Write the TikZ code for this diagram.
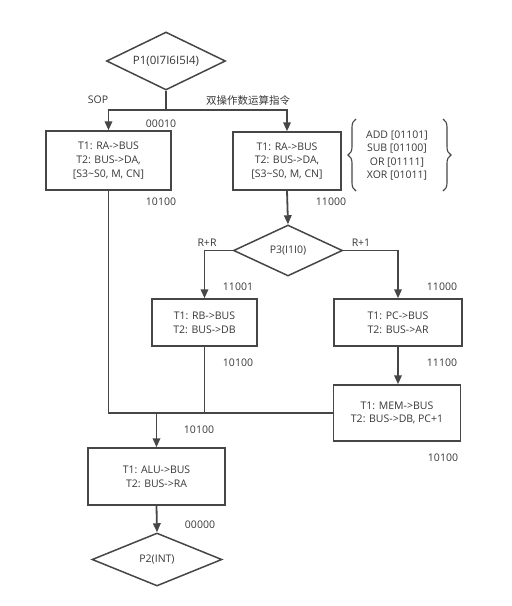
\documentclass[tikz,border=0pt]{standalone}
\usepackage{fontspec}
\setmainfont{Open Sans}
\newfontfamily\cjk{Noto Sans CJK SC}
\usetikzlibrary{shapes.geometric, arrows.meta, decorations.pathreplacing}
\definecolor{linegray}{RGB}{70,70,70}
\definecolor{textgray}{RGB}{55,55,55}

\begin{document}
\begin{tikzpicture}[x=1pt, y=-1pt, font=\fontsize{10.5}{13.6}\selectfont, text=textgray]
        \tikzset{state/.style={draw=linegray, line width=1.5pt, align=center, inner sep=0pt}}
        \tikzset{test/.style={diamond, draw=linegray, line width=1.5pt, inner sep=0pt, shape aspect=2.05}}
        \tikzset{flow/.style={draw=linegray, line width=1.8pt}}
        \tikzset{arr/.style={flow, -{Triangle[length=9pt, width=7.5pt]}}}
        \tikzset{brace/.style={draw=linegray, line width=1.1pt, decorate, decoration={brace, amplitude=8pt}}}

        \useasboundingbox (0,0) rectangle (512,606);

        % tests
        \node[test, minimum width=119pt, minimum height=58pt, font=\fontsize{11.5}{14}\selectfont] (p1) at (166,61) {P1(0I7I6I5I4)};
        \node[test, minimum width=109pt, minimum height=51pt] (p3) at (288,250.5) {P3(I1I0)};
        \node[test, minimum width=130pt, minimum height=53pt] (p2) at (157,559.5) {P2(INT)};

        % micro operations
        \node[state, minimum width=125pt, minimum height=59pt] (sop) at (108.5,160.5) {T1: RA->BUS\\T2: BUS->DA,\\{[}S3\textasciitilde S0, M, CN]};
        \node[state, minimum width=108pt, minimum height=58pt] (dop) at (287,161) {T1: RA->BUS\\T2: BUS->DA,\\{[}S3\textasciitilde S0, M, CN]};
        \node[state, minimum width=105pt, minimum height=47pt] (rr) at (204.5,322.5) {T1: RB->BUS\\T2: BUS->DB};
        \node[state, minimum width=128pt, minimum height=47pt] (ri) at (398,322.5) {T1: PC->BUS\\T2: BUS->AR};
        \node[state, minimum width=127pt, minimum height=56pt] (mem) at (397,413) {T1: MEM->BUS\\T2: BUS->DB, PC+1};
        \node[state, minimum width=137pt, minimum height=57pt] (alu) at (156.5,476.5) {T1: ALU->BUS\\T2: BUS->RA};

        % opcode list
        \node[align=center] (ops) at (397,155.5) {ADD [01101]\\SUB [01100]\\OR [01111]\\XOR [01011]};
        \draw[brace] (356,191) -- (356,119);
        \draw[brace] (443,119) -- (443,191);

        % connectors
        \coordinate (split) at (166,110);
        \draw[flow] (p1.south) -- (split);
        \draw[arr] (split) -| (sop.north);
        \draw[arr] (split) -| (dop.north);
        \draw[arr] (dop.south) -- (p3.north);
        \draw[arr] (p3.west) -| (rr.north);
        \draw[arr] (p3.east) -| (ri.north);
        \draw[arr] (ri.south) -- (ri.south |- mem.north);
        \draw[flow] (sop.south) |- (mem.west);
        \draw[flow] (rr.south) -- (rr.south |- mem.west);
        \coordinate (join) at (alu.north |- mem.west);
        \draw[arr] (join) -- (alu.north);
        \draw[arr] (alu.south) -- (p2.north);

        % labels
        \node at (98,100) {SOP};
        \node at (248,101) {\cjk 双操作数运算指令};
        \node at (161,124) {00010};
        \node at (161,202) {10100};
        \node at (331,202) {11000};
        \node at (207,243) {R+R};
        \node at (361,243) {R+1};
        \node at (238,287) {11001};
        \node at (442,287) {11000};
        \node at (238,363) {10100};
        \node at (442,363) {11100};
        \node at (199,430) {10100};
        \node at (443,458) {10100};
        \node at (200,525) {00000};

    \end{tikzpicture}
\end{document}
